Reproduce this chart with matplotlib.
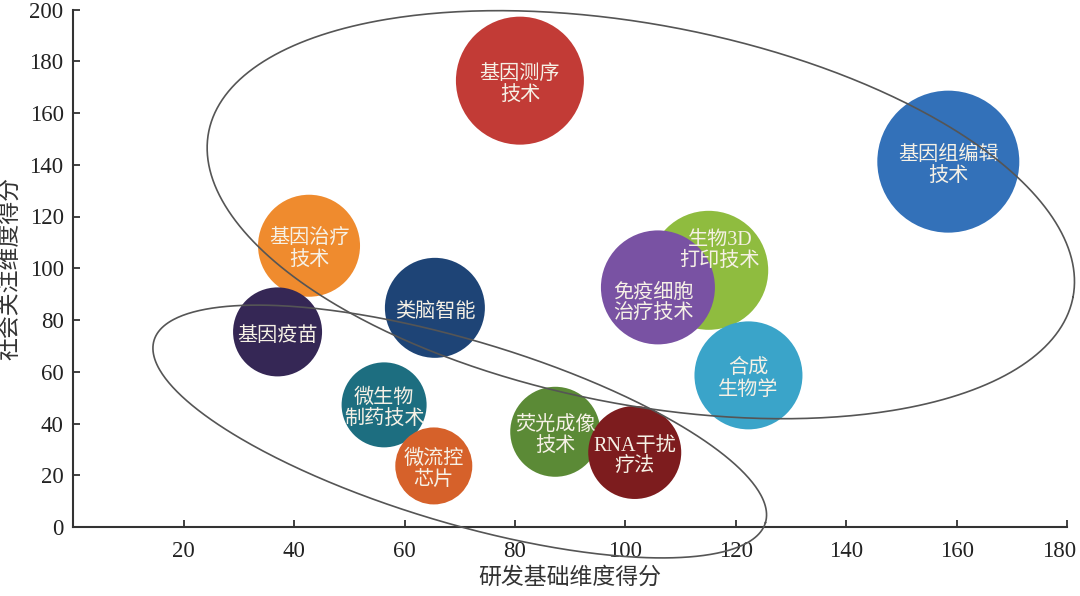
import numpy as np
import matplotlib
matplotlib.use('Agg')
import matplotlib.pyplot as plt
from matplotlib.transforms import ScaledTranslation

# bubble data
labels = ['基因测序\n技术', '基因组编辑\n技术', '基因治疗\n技术', '基因疫苗', '类脑智能',
          '生物3D\n打印技术', '免疫细胞\n治疗技术', '合成\n生物学', '微生物\n制药技术',
          '微流控\n芯片', '荧光成像\n技术', 'RNA干扰\n疗法']
rd_score = [80.9, 158.5, 42.7, 37.0, 65.5, 115.1, 105.9, 122.3, 56.3, 65.3, 87.3, 101.7]
social_score = [172.5, 141.2, 108.7, 75.4, 84.7, 99.2, 92.6, 58.6, 47.2, 23.6, 36.8, 28.8]
bubble_size = [64, 71, 51, 44.5, 50, 59.5, 57, 54, 42.5, 38.5, 45, 46.5]
colors = ['#C23B36', '#3371B9', '#EF8B2E', '#352755', '#1E4476', '#8FBC3F',
          '#7952A3', '#3AA4C9', '#1D6E80', '#D6612A', '#5B8A36', '#7D1C1E']

x_ticks = [20, 40, 60, 80, 100, 120, 140, 160, 180]
y_ticks = [0, 20, 40, 60, 80, 100, 120, 140, 160, 180, 200]

# group outlines: centre (data), semi-axes (px), tilt (deg)
groups = [((102.8, 120.7), 440, 190, 10.8),
          ((70.0, 36.9), 319, 91.4, 16.6)]

FONT = ['Liberation Serif', 'Noto Sans CJK SC']
plt.rcParams['font.family'] = FONT

W, H = 1080, 596
fig = plt.figure(figsize=(W / 100, H / 100), dpi=100)
left, bottom = 73.3 / W, 1 - 527 / H
width, height = (1067 - 73.3) / W, (527 - 9.5) / H
ax = fig.add_axes([left, bottom, width, height])
ax.set_xlim(0, 180)
ax.set_ylim(0, 200)

ppx = width * W / 180
ppy = height * H / 200

# bubbles
d_pt = np.array(bubble_size) * 2 * 72 / 100
ax.scatter(rd_score, social_score, s=d_pt ** 2, c=colors, edgecolors='none', zorder=2)

# label offsets in points (some labels sit off-centre)
offsets = {5: (8, 14), 6: (-3, -12)}
for i, lab in enumerate(labels):
    dx, dy = offsets.get(i, (0, -3))
    ax.annotate(lab, (rd_score[i], social_score[i]), xytext=(dx, dy),
                textcoords='offset points', ha='center', va='center',
                fontsize=14.5, color='#F6F1E6', linespacing=1.15,
                family=FONT, zorder=3)

# ellipses around the two groups
t = np.linspace(0, 2 * np.pi, 500)
for (cx, cy), a, b, ang in groups:
    phi = np.deg2rad(-ang)
    u = a * np.cos(t)
    v = b * np.sin(t)
    ex = u * np.cos(phi) - v * np.sin(phi)
    ey = u * np.sin(phi) + v * np.cos(phi)
    ax.plot(cx + ex / ppx, cy + ey / ppy, color='#555555', lw=1.2,
            clip_on=False, zorder=4)

ax.spines['top'].set_visible(False)
ax.spines['right'].set_visible(False)
for s in ['left', 'bottom']:
    ax.spines[s].set_linewidth(1.5)
    ax.spines[s].set_color('#333333')

ax.set_xticks(x_ticks)
ax.set_yticks(y_ticks)
ax.tick_params(direction='in', length=5, width=1.3, color='#333333',
               labelsize=16.5, labelcolor='#222222')
ax.tick_params(axis='x', pad=10)
ax.tick_params(axis='y', pad=7)

# last x label sits against the right edge
last = ax.get_xticklabels()[-1]
last.set_transform(last.get_transform() + ScaledTranslation(-6 / 72, 0, fig.dpi_scale_trans))

ax.set_xlabel('研发基础维度得分', fontsize=16.5, color='#333333', labelpad=4)
ax.set_ylabel('社会关注维度得分', fontsize=16.5, color='#333333', labelpad=6)

fig.savefig('out.png', dpi=100)
